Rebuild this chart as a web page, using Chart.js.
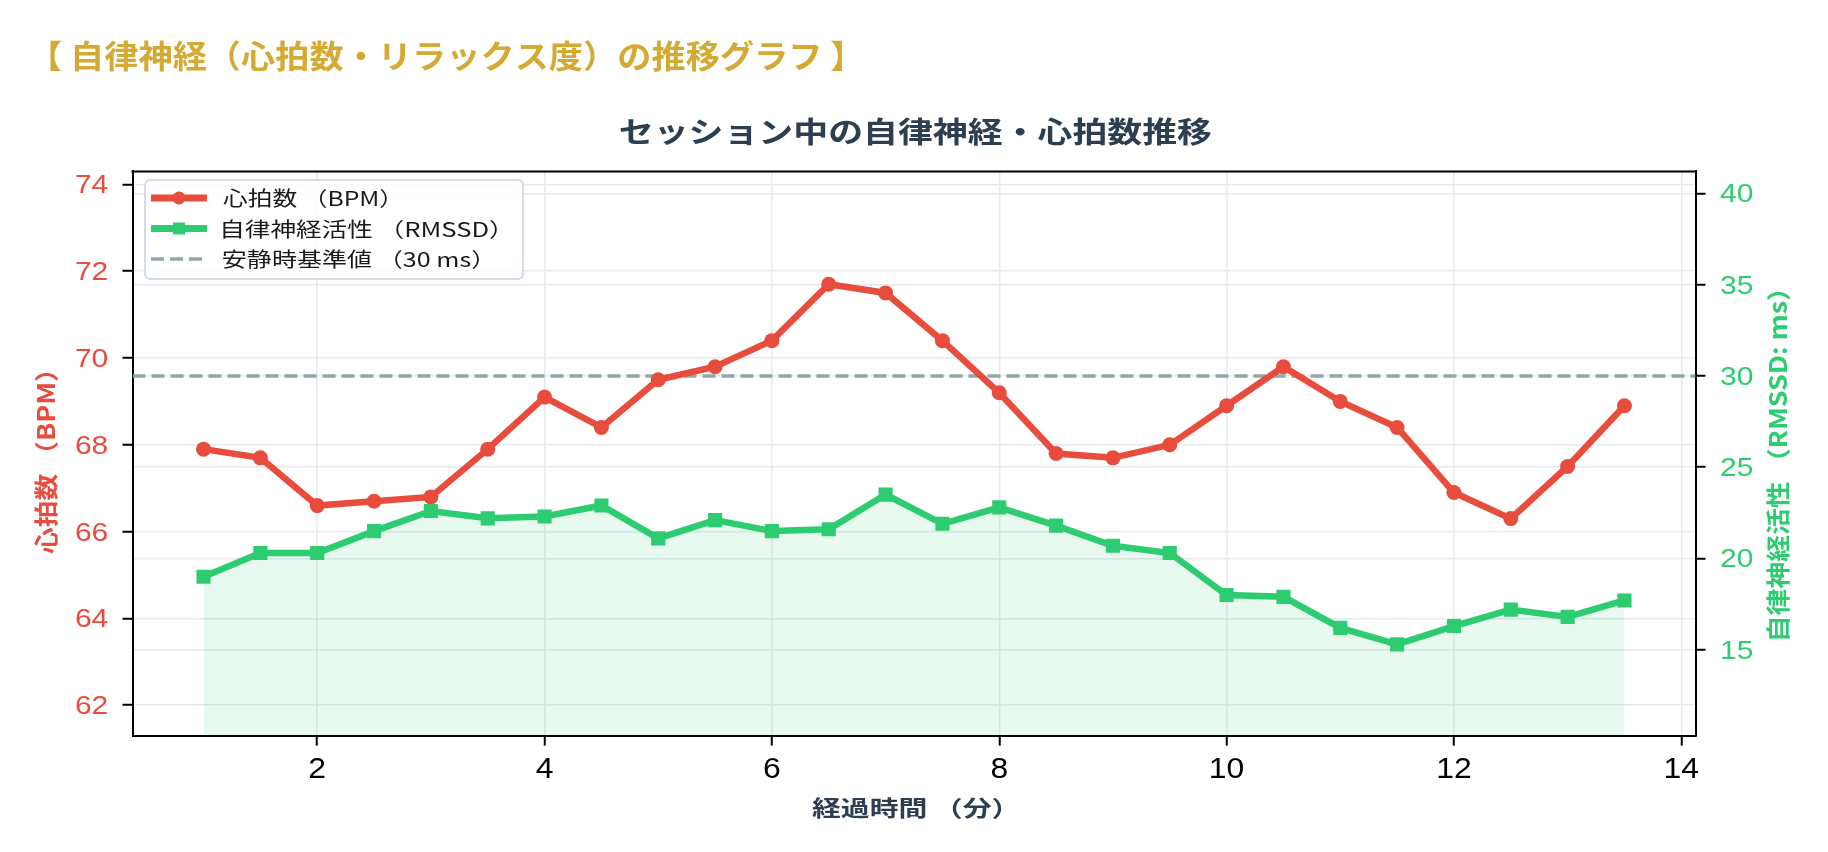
<!DOCTYPE html>
<html lang="ja">
<head>
<meta charset="utf-8">
<title>自律神経（心拍数・リラックス度）の推移グラフ</title>
<script src="https://cdn.jsdelivr.net/npm/chart.js@4.4.1/dist/chart.umd.min.js"></script>
<style>
    html, body { margin: 0; padding: 0; background: #fff; }
    #wrap { width: 1828px; height: 852px; }
</style>
</head>
<body>
<div id="wrap"><canvas id="hrv" width="1828" height="852"></canvas></div>
<script>
// Values
const minutes = [1, 1.5, 2, 2.5, 3, 3.5, 4, 4.5, 5, 5.5, 6, 6.5, 7, 7.5, 8, 8.5, 9, 9.5, 10, 10.5, 11, 11.5, 12, 12.5, 13, 13.5];
const heartRate = [67.9, 67.7, 66.6, 66.7, 66.8, 67.9, 69.1, 68.4, 69.5, 69.8, 70.4, 71.7, 71.5, 70.4, 69.2, 67.8, 67.7, 68.0, 68.9, 69.8, 69.0, 68.4, 66.9, 66.3, 67.5, 68.9];
const rmssd = [19.0, 20.3, 20.3, 21.5, 22.6, 22.2, 22.3, 22.9, 21.1, 22.1, 21.5, 21.6, 23.5, 21.9, 22.8, 21.8, 20.7, 20.3, 18.0, 17.9, 16.2, 15.3, 16.3, 17.2, 16.8, 17.7];
const baselineRmssd = 30;

const xTicks = [2, 4, 6, 8, 10, 12, 14];
const hrTicks = [62, 64, 66, 68, 70, 72, 74];
const rmssdTicks = [15, 20, 25, 30, 35, 40];
const xRange = [0.375, 14.125];
const hrRange = [61.3, 74.3];
const rmssdRange = [10.3, 41.2];

const labels = {
    page: '【 自律神経（心拍数・リラックス度）の推移グラフ 】',
    chart: 'セッション中の自律神経・心拍数推移',
    x: '経過時間 （分）',
    hr: '心拍数 （BPM）',
    rmssd: '自律神経活性 （RMSSD: ms）',
    legend: ['心拍数 （BPM）', '自律神経活性 （RMSSD）', '安静時基準値 （30 ms）'],
};

const RED = '#e74c3c';
const GREEN = '#2ecc71';
const GRAY = '#95a5a6';
const NAVY = '#2c3e50';
const GOLD = '#d4aa32';
const GRID = '#e6eaf0';
const CJK = "'Noto Sans CJK JP', 'Noto Sans', sans-serif";
const SANS = "'Liberation Sans', Arial, sans-serif";

Chart.defaults.font.family = SANS;

// draw text so its ink runs from x0 to x1, centred on cy
function fitText(ctx, text, x0, x1, cy, font, color) {
    ctx.save();
    ctx.font = font;
    ctx.fillStyle = color;
    ctx.textAlign = 'left';
    ctx.textBaseline = 'alphabetic';
    const m = ctx.measureText(text);
    const ink = m.actualBoundingBoxLeft + m.actualBoundingBoxRight;
    ctx.translate(x0, cy);
    ctx.scale((x1 - x0) / ink, 1);
    ctx.fillText(text, m.actualBoundingBoxLeft, (m.actualBoundingBoxAscent - m.actualBoundingBoxDescent) / 2);
    ctx.restore();
}

function verticalText(ctx, text, cx, yTop, yBottom, font, color) {
    ctx.save();
    ctx.translate(cx, yBottom);
    ctx.rotate(-Math.PI / 2);
    fitText(ctx, text, 0, yBottom - yTop, 0, font, color);
    ctx.restore();
}

// tick label, slightly widened like the reference, ink centred on cy
function tickText(ctx, text, x, cy, align, font, color, sx) {
    ctx.save();
    ctx.font = font;
    ctx.fillStyle = color;
    ctx.textAlign = align;
    ctx.textBaseline = 'alphabetic';
    const m = ctx.measureText(text);
    ctx.translate(x, cy);
    ctx.scale(sx, 1);
    ctx.fillText(text, 0, (m.actualBoundingBoxAscent - m.actualBoundingBoxDescent) / 2);
    ctx.restore();
}

const decorations = {
    id: 'decorations',
    beforeDatasetsDraw(chart) {
        const { ctx, chartArea: a } = chart;
        ctx.save();
        ctx.strokeStyle = '#000';
        ctx.lineWidth = 2;
        ctx.beginPath();
        ctx.moveTo(a.left - 1, a.top);
        ctx.lineTo(a.right + 1, a.top);
        ctx.stroke();
        ctx.restore();
    },
    afterDraw(chart) {
        const { ctx, chartArea: a } = chart;
        const { x, y, y2 } = chart.scales;

        xTicks.forEach(v => tickText(ctx, String(v), x.getPixelForValue(v), 767.5, 'center', `29px ${SANS}`, '#000', 1.1));
        hrTicks.forEach(v => tickText(ctx, String(v), a.left - 24.2, y.getPixelForValue(v), 'right', `25px ${SANS}`, RED, 1.2));
        rmssdTicks.forEach(v => tickText(ctx, String(v), a.right + 24.5, y2.getPixelForValue(v), 'left', `25px ${SANS}`, GREEN, 1.2));

        fitText(ctx, labels.page, 50.5, 842, 56, `bold 32px ${CJK}`, GOLD);
        fitText(ctx, labels.chart, 620, 1212, 131, `bold 29px ${CJK}`, NAVY);
        fitText(ctx, labels.x, 812, 1002, 808, `bold 22px ${CJK}`, NAVY);
        verticalText(ctx, labels.hr, 46, 372, 554, `bold 24px ${CJK}`, RED);
        verticalText(ctx, labels.rmssd, 1778, 291, 639, `bold 24px ${CJK}`, GREEN);

        // legend
        ctx.save();
        ctx.beginPath();
        ctx.roundRect(145, 180, 378, 99, 5);
        ctx.fillStyle = 'rgba(255,255,255,0.85)';
        ctx.fill();
        ctx.strokeStyle = '#d3dbe6';
        ctx.lineWidth = 2;
        ctx.stroke();
        const rows = [
            { color: RED, marker: 'circle', dash: [], width: 7, textEnd: 388 },
            { color: GREEN, marker: 'rect', dash: [], width: 7, textEnd: 498 },
            { color: GRAY, marker: null, dash: [13, 6], width: 3.5, textEnd: 480 },
        ];
        rows.forEach((r, i) => {
            const cy = 198 + i * 30.5;
            ctx.setLineDash(r.dash);
            ctx.strokeStyle = r.color;
            ctx.lineWidth = r.width;
            ctx.beginPath();
            ctx.moveTo(151, cy);
            ctx.lineTo(207, cy);
            ctx.stroke();
            ctx.setLineDash([]);
            ctx.fillStyle = r.color;
            if (r.marker === 'circle') {
                ctx.beginPath();
                ctx.arc(179, cy, 6.5, 0, Math.PI * 2);
                ctx.fill();
            } else if (r.marker === 'rect') {
                ctx.fillRect(179 - 6, cy - 6, 12, 12);
            }
            fitText(ctx, labels.legend[i], 223, r.textEnd, cy, `20px ${CJK}`, '#1a1a1a');
        });
        ctx.restore();
    },
};

function fixWidth(w) {
    return (scale) => {
        scale.width = w;
        scale.paddingTop = 0;
        scale.paddingBottom = 0;
    };
}

function setTicks(values) {
    return (scale) => { scale.ticks = values.map(v => ({ value: v })); };
}

const gridStyle = { color: GRID, lineWidth: 1.5, tickColor: '#000', tickLength: 10, tickWidth: 2 };
const borderStyle = { display: true, color: '#000', width: 2 };

new Chart(document.getElementById('hrv'), {
    type: 'line',
    data: {
        datasets: [
            {
                label: labels.legend[0],
                data: minutes.map((m, i) => ({ x: m, y: heartRate[i] })),
                yAxisID: 'y',
                borderColor: RED,
                backgroundColor: RED,
                borderWidth: 6.5,
                pointStyle: 'circle',
                pointRadius: 7.5,
                pointBorderWidth: 0,
                pointBackgroundColor: RED,
                tension: 0,
                fill: false,
            },
            {
                label: labels.legend[1],
                data: minutes.map((m, i) => ({ x: m, y: rmssd[i] })),
                yAxisID: 'y2',
                borderColor: GREEN,
                backgroundColor: 'rgba(46, 204, 113, 0.11)',
                borderWidth: 6.5,
                pointStyle: 'rect',
                pointRadius: 10,
                pointBorderWidth: 0,
                pointBackgroundColor: GREEN,
                tension: 0,
                fill: 'start',
            },
            {
                label: labels.legend[2],
                data: xRange.map(x => ({ x, y: baselineRmssd })),
                yAxisID: 'y2',
                borderColor: GRAY,
                borderWidth: 3.5,
                borderDash: [13, 6],
                pointRadius: 0,
                fill: false,
            },
        ],
    },
    options: {
        responsive: false,
        devicePixelRatio: 1,
        animation: false,
        layout: { padding: { top: 171.4, left: 0, right: 0, bottom: 0 } },
        plugins: {
            legend: { display: false },
            title: { display: false },
            tooltip: { enabled: false },
        },
        scales: {
            x: {
                type: 'linear',
                min: xRange[0],
                max: xRange[1],
                afterBuildTicks: setTicks(xTicks),
                afterFit: (s) => { s.height = 852 - 735.6; s.paddingLeft = 0; s.paddingRight = 0; },
                ticks: { display: false },
                grid: gridStyle,
                border: borderStyle,
            },
            y: {
                position: 'left',
                min: hrRange[0],
                max: hrRange[1],
                afterBuildTicks: setTicks(hrTicks),
                afterFit: fixWidth(132.5),
                ticks: { display: false },
                grid: gridStyle,
                border: borderStyle,
            },
            y2: {
                position: 'right',
                min: rmssdRange[0],
                max: rmssdRange[1],
                afterBuildTicks: setTicks(rmssdTicks),
                afterFit: fixWidth(1828 - 1695.5),
                ticks: { display: false },
                grid: gridStyle,
                border: borderStyle,
            },
        },
    },
    plugins: [decorations],
});
</script>
</body>
</html>
